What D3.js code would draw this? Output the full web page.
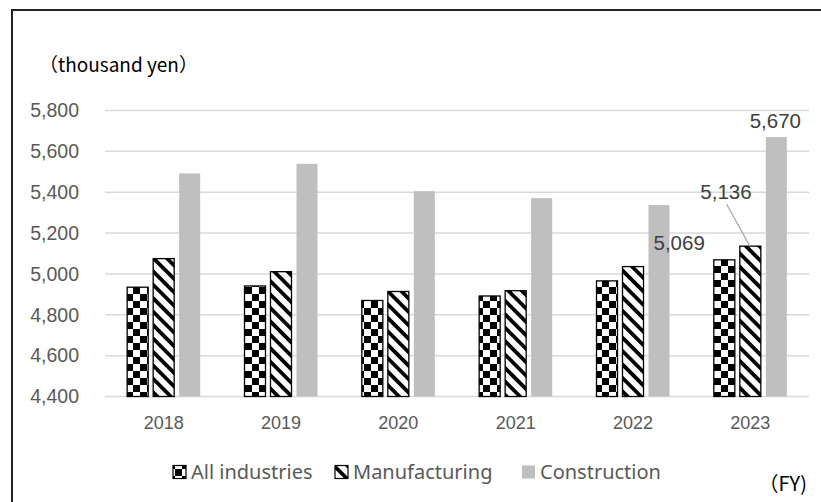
<!DOCTYPE html>
<html>
<head>
<meta charset="utf-8">
<script src="https://cdn.jsdelivr.net/npm/d3@7"></script>
<style>
  html, body { margin: 0; padding: 0; background: #fff; }
  svg { display: block; }
</style>
</head>
<body>
<svg id="chart" width="821" height="502"></svg>
<script>
// Average annual wages by fiscal year (thousand yen)
const years = ["2018", "2019", "2020", "2021", "2022", "2023"];
const seriesNames = ["All industries", "Manufacturing", "Construction"];
const allIndustries = [4935, 4941, 4870, 4892, 4966, 5069];
const manufacturing = [5075, 5011, 4914, 4918, 5036, 5136];
const construction = [5492, 5539, 5405, 5371, 5337, 5670];
const yTicks = [4400, 4600, 4800, 5000, 5200, 5400, 5600, 5800];

const series = [allIndustries, manufacturing, construction];

const svg = d3.select("#chart");
const W = 821, H = 502;

// Patterns for the bar fills
const defs = svg.append("defs");
const checker = defs.append("pattern")
  .attr("id", "checker").attr("patternUnits", "userSpaceOnUse")
  .attr("width", 14).attr("height", 14);
checker.append("rect").attr("width", 14).attr("height", 14).attr("fill", "#fff");
checker.append("rect").attr("x", 0).attr("y", 0).attr("width", 7).attr("height", 7).attr("fill", "#000");
checker.append("rect").attr("x", 7).attr("y", 7).attr("width", 7).attr("height", 7).attr("fill", "#000");

const stripes = defs.append("pattern")
  .attr("id", "stripes").attr("patternUnits", "userSpaceOnUse")
  .attr("width", 9.5).attr("height", 9.5)
  .attr("patternTransform", "rotate(-45)");
stripes.append("rect").attr("width", 9.5).attr("height", 9.5).attr("fill", "#fff");
stripes.append("rect").attr("x", 0).attr("y", 0).attr("width", 3.8).attr("height", 9.5).attr("fill", "#000");

const fills = ["url(#checker)", "url(#stripes)", "#bfbfbf"];
const strokes = ["#000", "#000", "none"];

// Chart frame
svg.append("rect")
  .attr("x", 12).attr("y", 10).attr("width", W).attr("height", H)
  .attr("fill", "none").attr("stroke", "#222").attr("stroke-width", 2);

// Scales
const x = d3.scaleBand().domain(years).range([105, 809]);
const y = d3.scaleLinear().domain([4400, 5800]).range([396.5, 110.5]);
const barW = 21, barStep = 26;
const offset = i => x.bandwidth() / 2 - (barW + 2 * barStep) / 2 + i * barStep;

// Gridlines
svg.append("g").selectAll("line").data(yTicks).join("line")
  .attr("x1", x.range()[0]).attr("x2", x.range()[1])
  .attr("y1", d => y(d)).attr("y2", d => y(d))
  .attr("stroke", "#d9d9d9").attr("stroke-width", 1.5);

// Y axis labels
const yAxis = d3.axisLeft(y).tickValues(yTicks).tickFormat(d3.format(",")).tickSize(0).tickPadding(0);
const gy = svg.append("g").attr("transform", "translate(79,0)").call(yAxis);
gy.select(".domain").remove();
gy.selectAll("text").attr("fill", "#595959")
  .style("font-family", "'Liberation Sans', Arial, sans-serif").style("font-size", "19.5px");

// X axis labels
const xAxis = d3.axisBottom(x).tickSize(0).tickPadding(0);
const gx = svg.append("g").attr("transform", "translate(0,416)").call(xAxis);
gx.select(".domain").remove();
gx.selectAll("text").attr("fill", "#595959")
  .style("font-family", "'Liberation Sans', Arial, sans-serif").style("font-size", "18px");

// Bars
series.forEach((vals, i) => {
  svg.append("g").selectAll("rect").data(vals).join("rect")
    .attr("x", (d, j) => x(years[j]) + offset(i))
    .attr("y", d => y(d))
    .attr("width", barW)
    .attr("height", d => y(4400) - y(d))
    .attr("fill", fills[i])
    .attr("stroke", strokes[i])
    .attr("stroke-width", 1.3);
});

// Value labels for the latest year
const last = years.length - 1;
const lblFont = "'Liberation Sans', Arial, sans-serif";
const xLast = i => x(years[last]) + offset(i);
svg.append("text")
  .attr("x", xLast(0) - 9).attr("y", y(allIndustries[last]) - 10)
  .attr("text-anchor", "end").attr("fill", "#404040")
  .style("font-family", lblFont).style("font-size", "20.5px")
  .text(d3.format(",")(allIndustries[last]));
svg.append("line")
  .attr("x1", 726.5).attr("y1", 204)
  .attr("x2", xLast(1) + barW / 2 - 0.5).attr("y2", y(manufacturing[last]))
  .attr("stroke", "#a6a6a6").attr("stroke-width", 1.2);
svg.append("text")
  .attr("x", 726).attr("y", 199)
  .attr("text-anchor", "middle").attr("fill", "#404040")
  .style("font-family", lblFont).style("font-size", "20.5px")
  .text(d3.format(",")(manufacturing[last]));
svg.append("text")
  .attr("x", xLast(2) + barW / 2 - 1).attr("y", y(construction[last]) - 9)
  .attr("text-anchor", "middle").attr("fill", "#404040")
  .style("font-family", lblFont).style("font-size", "20.5px")
  .text(d3.format(",")(construction[last]));

// Unit label
const cjk = "'Noto Sans CJK JP', 'Noto Sans', sans-serif";
svg.append("text")
  .attr("x", 39).attr("y", 72)
  .attr("fill", "#000")
  .style("font-family", cjk).style("font-size", "19px")
  .text("（thousand yen）");

svg.append("text")
  .attr("x", 807).attr("y", 491).attr("text-anchor", "end")
  .attr("fill", "#000")
  .style("font-family", cjk).style("font-size", "20px")
  .text("（FY)");

// Legend
const legendX = [173, 335, 522];
const legendFont = "'Noto Sans', sans-serif";
const lg = svg.append("g");
seriesNames.forEach((name, i) => {
  lg.append("rect")
    .attr("x", legendX[i]).attr("y", 465.5).attr("width", 13).attr("height", 13)
    .attr("fill", fills[i]).attr("stroke", strokes[i]).attr("stroke-width", 1.2);
  lg.append("text")
    .attr("x", legendX[i] + 18).attr("y", 479)
    .attr("fill", "#595959")
    .style("font-family", legendFont).style("font-size", "20px")
    .text(name);
});
</script>
</body>
</html>
